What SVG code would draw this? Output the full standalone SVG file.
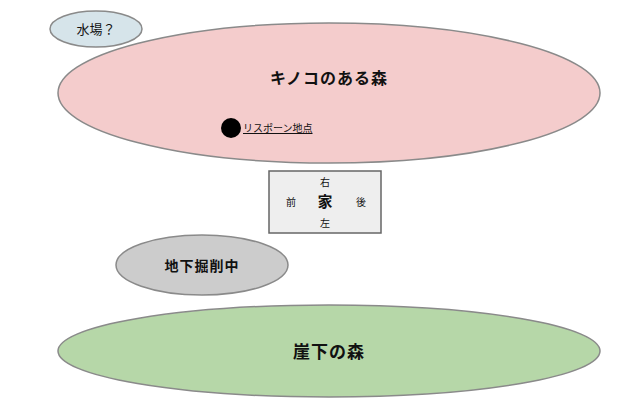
<svg xmlns="http://www.w3.org/2000/svg" width="640" height="417" viewBox="0 0 640 417">
<style>
text{font-family:"Noto Sans CJK JP",sans-serif;fill:#111}
.e{stroke:#8a8a8a;stroke-width:1.5}
</style>
<rect width="640" height="417" fill="#fff"/>
<g id="water"><ellipse cx="96" cy="29" rx="46" ry="18" fill="#d6e4ea" class="e"/><text x="96" y="34" font-size="13" text-anchor="middle">水場？</text></g>
<g id="kinoko"><ellipse cx="329" cy="93" rx="271" ry="70" fill="#f4cccc" class="e"/><text x="329" y="84" font-size="16" font-weight="bold" text-anchor="middle" letter-spacing="1">キノコのある森</text></g>
<g id="respawn"><circle cx="231" cy="128" r="10" fill="#000"/><text x="243" y="132" font-size="10" text-decoration="underline">リスポーン地点</text></g>
<g id="house"><rect x="269" y="171" width="112" height="62" fill="#eeeeee" stroke="#666" stroke-width="1.5"/>
<text x="325" y="186" font-size="10" text-anchor="middle">右</text>
<text x="291" y="206" font-size="10" text-anchor="middle">前</text>
<text x="325" y="207" font-size="15" font-weight="bold" text-anchor="middle">家</text>
<text x="361" y="206" font-size="10" text-anchor="middle">後</text>
<text x="325" y="227" font-size="10" text-anchor="middle">左</text></g>
<g id="dig"><ellipse cx="202" cy="265" rx="86" ry="30" fill="#cccccc" class="e"/><text x="202" y="271" font-size="14" font-weight="bold" text-anchor="middle" letter-spacing="1">地下掘削中</text></g>
<g id="cliff"><ellipse cx="329" cy="351" rx="271" ry="46" fill="#b6d7a8" class="e"/><text x="329" y="358" font-size="17" font-weight="bold" text-anchor="middle" letter-spacing="1">崖下の森</text></g>
<g id="connectors"/>
</svg>
